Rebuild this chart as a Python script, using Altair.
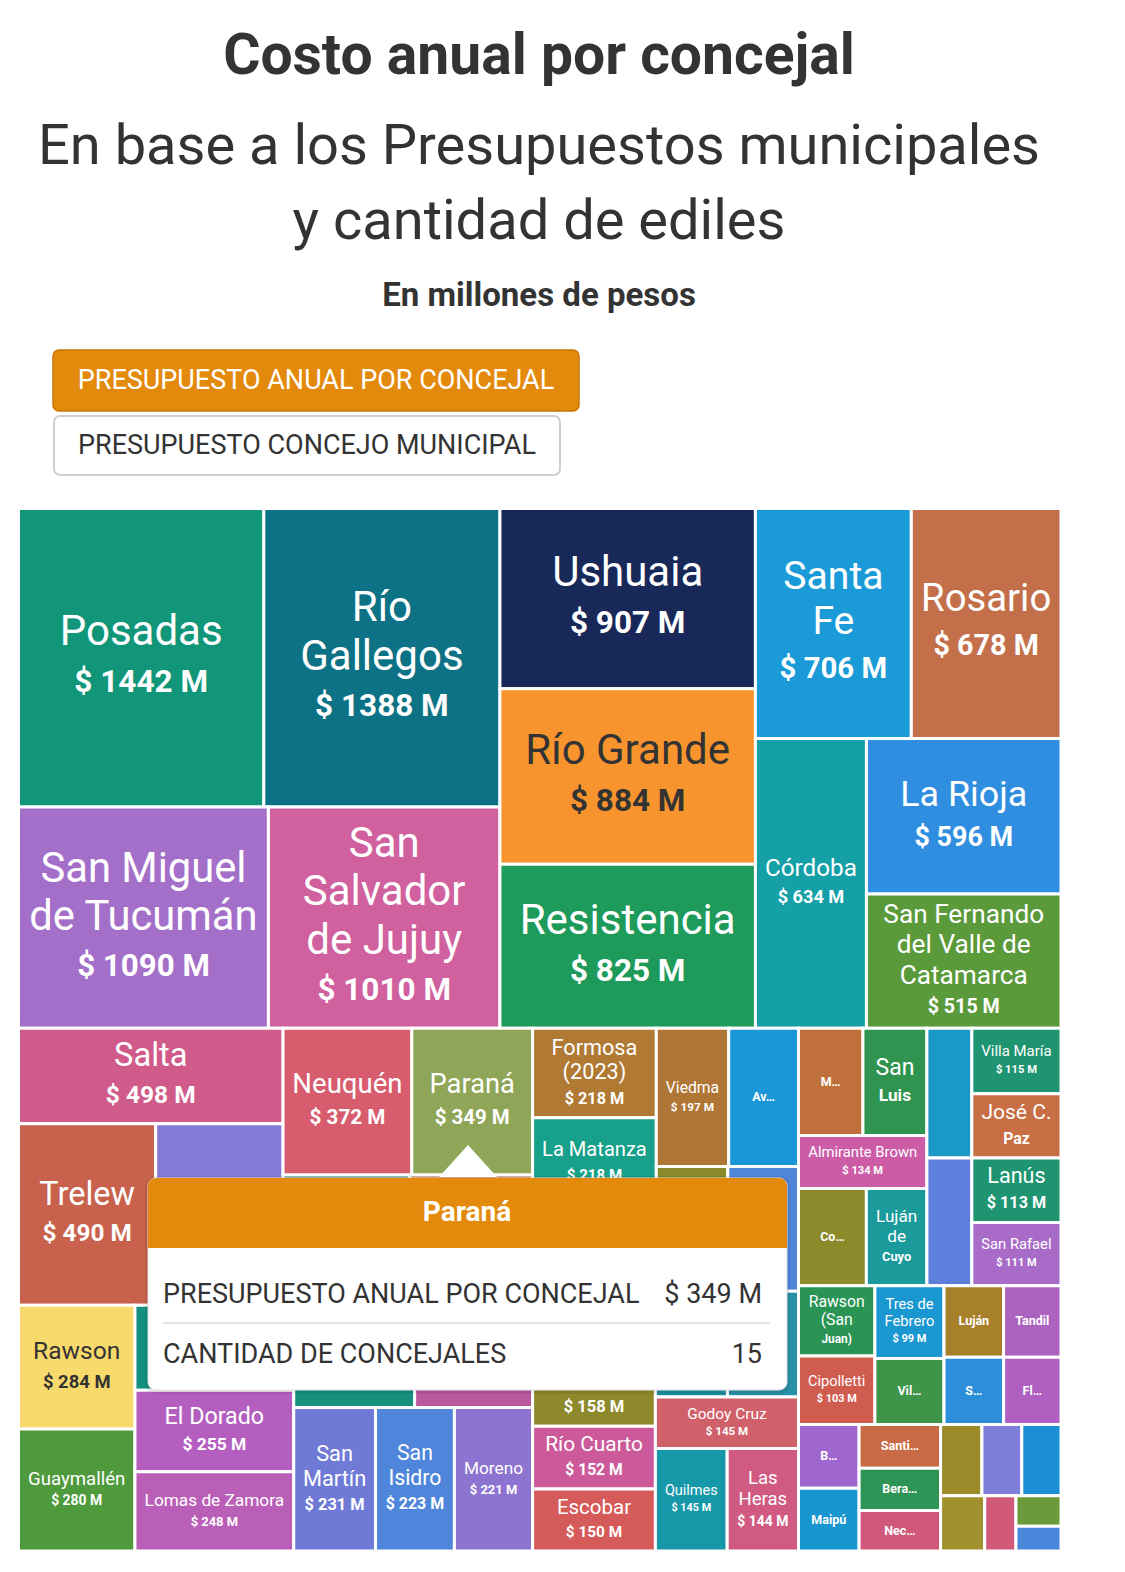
import unicodedata
import altair as alt
import pandas as pd

# ------------------------------------------------------------------ datos
ciudades = [
    "Posadas", "Río Gallegos", "San Miguel de Tucumán", "San Salvador de Jujuy", "Ushuaia",
    "Río Grande", "Resistencia", "Santa Fe", "Rosario", "Córdoba", "La Rioja",
    "San Fernando del Valle de Catamarca",
    "Salta", "Trelew", "Corrientes", "Neuquén", "Paraná", "Santa Rosa", "Mendoza", "Rawson",
    "Guaymallén", "San Juan", "El Dorado", "Lomas de Zamora", "La Plata", "Bahía Blanca",
    "San Martín", "San Isidro", "Moreno",
    "Formosa (2023)", "La Matanza", "Mar del Plata", "Viedma", "Avellaneda", "Pilar", "Morón",
    "Merlo", "Tigre", "Río Cuarto", "Escobar", "Hurlingham", "Ituzaingó", "Godoy Cruz",
    "Quilmes", "Las Heras",
    "Malvinas Argentinas", "San Luis", "Almirante Brown", "Comodoro Rivadavia", "Luján de Cuyo",
    "Gualeguaychú", "Villa María", "José C. Paz", "Esteban Echeverría", "Lanús", "San Rafael",
    "Rawson (San Juan)", "Cipolletti", "Tres de Febrero", "Villa Mercedes", "Luján", "Tandil",
    "San Nicolás", "Florencio Varela",
    "Berisso", "Maipú", "Santiago del Estero", "Berazategui", "Necochea", "Olavarría",
    "Pergamino", "Junín", "Zárate", "Campana", "Azul", "Chivilcoy",
]
valores = [
    1442, 1388, 1090, 1010, 907, 884, 825, 706, 678, 634, 596, 515,
    498, 490, 455, 372, 349, 325, 315, 284, 280, 266, 255, 248, 244, 238, 231, 223, 221,
    218, 218, 205, 197, 190, 176, 174, 168, 158, 152, 150, 150, 148, 145, 145, 144,
    136, 135, 134, 130, 116, 115, 115, 113, 113, 113, 111,
    106, 103, 99, 90, 84, 81, 79, 76,
    76, 75, 70, 68, 65, 58, 56, 55, 48, 34, 27, 22,
]
concejales_tooltip = 15
ciudad_tooltip = "Paraná"

titulo = "Costo anual por concejal"
subtitulo = ["En base a los Presupuestos municipales", "y cantidad de ediles"]
unidad = "En millones de pesos"
botones = ["PRESUPUESTO ANUAL POR CONCEJAL", "PRESUPUESTO CONCEJO MUNICIPAL"]
filas_tooltip = ["PRESUPUESTO ANUAL POR CONCEJAL", "CANTIDAD DE CONCEJALES"]

# textos de las etiquetas (líneas normales, línea en negrita)
VAL = "__valor__"
etiquetas = {
    "Río Gallegos": (["Río", "Gallegos"], VAL),
    "San Miguel de Tucumán": (["San Miguel", "de Tucumán"], VAL),
    "San Salvador de Jujuy": (["San", "Salvador", "de Jujuy"], VAL),
    "Santa Fe": (["Santa", "Fe"], VAL),
    "San Fernando del Valle de Catamarca": (["San Fernando", "del Valle de", "Catamarca"], VAL),
    "San Martín": (["San", "Martín"], VAL),
    "San Isidro": (["San", "Isidro"], VAL),
    "Formosa (2023)": (["Formosa", "(2023)"], VAL),
    "Las Heras": (["Las", "Heras"], VAL),
    "Tres de Febrero": (["Tres de", "Febrero"], VAL),
    "San Luis": (["San"], "Luis"),
    "José C. Paz": (["José C."], "Paz"),
    "Luján de Cuyo": (["Luján", "de"], "Cuyo"),
    "Rawson (San Juan)": (["Rawson", "(San"], "Juan)"),
    "Avellaneda": ([], "Av…"),
    "Pilar": ([], "Pi…"),
    "Morón": ([], "Mo…"),
    "Malvinas Argentinas": ([], "M…"),
    "Comodoro Rivadavia": ([], "Co…"),
    "Villa Mercedes": ([], "Vil…"),
    "San Nicolás": ([], "S…"),
    "Florencio Varela": ([], "Fl…"),
    "Berisso": ([], "B…"),
    "Santiago del Estero": ([], "Santi…"),
    "Berazategui": ([], "Bera…"),
    "Necochea": ([], "Nec…"),
    "Luján": ([], "Luján"),
    "Tandil": ([], "Tandil"),
    "Maipú": ([], "Maipú"),
}
sin_etiqueta = {"Gualeguaychú", "Esteban Echeverría", "Olavarría", "Pergamino", "Junín",
                "Zárate", "Campana", "Azul", "Chivilcoy"}

# ------------------------------------------------------------------ estilos
colores = {
    "Posadas": "#11967A", "Río Gallegos": "#0D7285", "San Miguel de Tucumán": "#A46FC9",
    "San Salvador de Jujuy": "#D0609E", "Ushuaia": "#182858", "Río Grande": "#F7942D",
    "Resistencia": "#1E9A5B", "Santa Fe": "#1A9AD6", "Rosario": "#C26F4A", "Córdoba": "#14A0A6",
    "La Rioja": "#2F8EE0", "San Fernando del Valle de Catamarca": "#5A9A3B",
    "Salta": "#D05B8B", "Trelew": "#C9624C", "Corrientes": "#8479D6", "Neuquén": "#D65C6E",
    "Paraná": "#8FA558", "Santa Rosa": "#3E8A8C", "Mendoza": "#C86E3C", "Rawson": "#F8D96B",
    "Guaymallén": "#4E9A3C", "San Juan": "#13907F", "El Dorado": "#B45FC0",
    "Lomas de Zamora": "#BA5FB7", "La Plata": "#17907F", "Bahía Blanca": "#B8589F",
    "San Martín": "#6F7AD6", "San Isidro": "#4F86DB", "Moreno": "#8C74D0",
    "Formosa (2023)": "#B07A34", "La Matanza": "#17A08A", "Mar del Plata": "#D6604D",
    "Viedma": "#B07636", "Avellaneda": "#1B96D6", "Pilar": "#8A8A2B", "Morón": "#4F86DA",
    "Merlo": "#2E9AA0", "Tigre": "#8E8A2C", "Río Cuarto": "#CC5A9A", "Escobar": "#D55A5A",
    "Hurlingham": "#1C8E9C", "Ituzaingó": "#2A8FA8", "Godoy Cruz": "#D0606A",
    "Quilmes": "#1698A8", "Las Heras": "#D05A82",
    "Malvinas Argentinas": "#C0703A", "San Luis": "#2E9450", "Almirante Brown": "#CC5CA6",
    "Comodoro Rivadavia": "#8C8A2A", "Luján de Cuyo": "#1A9A9A", "Gualeguaychú": "#1A98C8",
    "Villa María": "#1E9470", "José C. Paz": "#C86E45", "Esteban Echeverría": "#5E7FDC",
    "Lanús": "#1E9470", "San Rafael": "#A86CC8",
    "Rawson (San Juan)": "#2A9455", "Cipolletti": "#D05C50", "Tres de Febrero": "#1A96D0",
    "Villa Mercedes": "#3E9448", "Luján": "#A8802A", "Tandil": "#AE62C0",
    "San Nicolás": "#2D8FDA", "Florencio Varela": "#AE5FBF",
    "Berisso": "#A066D0", "Maipú": "#1896D0", "Santiago del Estero": "#C86A45",
    "Berazategui": "#2E9455", "Necochea": "#D0587A", "Olavarría": "#9A8A2A",
    "Pergamino": "#7E7ED8", "Junín": "#1A8FD6", "Zárate": "#A0902E", "Campana": "#D05A78",
    "Azul": "#6A9A3A", "Chivilcoy": "#4A86DA",
}
FUENTE = "Roboto"
NARANJA = "#E38A0C"
OSCURO = "#333333"

# área del treemap (coordenadas de página) y margen de la página
PAGE = 8
TX0, TY0 = 18.5, 508.5
W = H = 1042.5
TOOLTIP = (148, 1178, 787, 1390)   # caja del tooltip (página)


# ------------------------------------------------------------------ layout (d3.treemapBinary)
def binario(vals, x0, y0, x1, y1):
    n = len(vals)
    sums = [0.0]
    for v in vals:
        sums.append(sums[-1] + v)
    out = [None] * n

    def part(i, j, value, x0, y0, x1, y1):
        if i >= j - 1:
            out[i] = (x0, y0, x1, y1)
            return
        off = sums[i]
        target = value / 2 + off
        k, hi = i + 1, j - 1
        while k < hi:
            mid = (k + hi) >> 1
            if sums[mid] < target:
                k = mid + 1
            else:
                hi = mid
        if (target - sums[k - 1]) < (sums[k] - target) and i + 1 < k:
            k -= 1
        vl = sums[k] - off
        vr = value - vl
        if (x1 - x0) > (y1 - y0):
            xk = (x0 * vr + x1 * vl) / value
            part(i, k, vl, x0, y0, xk, y1)
            part(k, j, vr, xk, y0, x1, y1)
        else:
            yk = (y0 * vr + y1 * vl) / value
            part(i, k, vl, x0, y0, x1, yk)
            part(k, j, vr, x0, yk, x1, y1)

    part(0, n, sums[n], x0, y0, x1, y1)
    return out


orden = sorted(range(len(valores)), key=lambda i: -valores[i])
cajas = binario([valores[i] for i in orden], 0.0, 0.0, W, H)

ANCHO = {' ': .248, '.': .263, ',': .196, '(': .342, ')': .348, '$': .561, '…': .79, '-': .276,
         'a': .543, 'b': .561, 'c': .523, 'd': .564, 'e': .530, 'f': .347, 'g': .561, 'h': .551,
         'i': .243, 'j': .239, 'k': .507, 'l': .243, 'm': .876, 'n': .552, 'o': .570, 'p': .561,
         'q': .568, 'r': .338, 's': .516, 't': .327, 'u': .551, 'v': .484, 'w': .751, 'x': .496,
         'y': .473, 'z': .496,
         'A': .652, 'B': .622, 'C': .652, 'D': .655, 'E': .554, 'F': .545, 'G': .681, 'H': .713,
         'I': .272, 'J': .553, 'K': .627, 'L': .539, 'M': .873, 'N': .697, 'O': .688, 'P': .630,
         'Q': .688, 'R': .615, 'S': .594, 'T': .597, 'U': .648, 'V': .637, 'W': .887, 'X': .627,
         'Y': .601, 'Z': .599}


def ancho(t, negrita=False):
    w = 0.0
    for ch in t:
        if ch.isdigit():
            w += .561
            continue
        base = unicodedata.normalize("NFD", ch)[0]
        w += ANCHO.get(ch, ANCHO.get(base, .55))
    return w * (1.04 if negrita else 1.0)


def color_texto(hx):
    r, g, b = int(hx[1:3], 16), int(hx[3:5], 16), int(hx[5:7], 16)
    lum = (0.299 * r + 0.587 * g + 0.114 * b) / 255
    return OSCURO if lum > 0.62 else "#FFFFFF"


def tapado(cx, cy):
    """La línea queda bajo el tooltip (no se ve en la referencia)."""
    px, py = cx + TX0, cy + TY0
    return TOOLTIP[0] <= px <= TOOLTIP[2] and TOOLTIP[1] <= py <= TOOLTIP[3]


celdas, nom_rows, neg_rows = [], [], []


def agrega(lista, cx, cy, t, s, c):
    if not tapado(cx, cy):
        lista.append(dict(cx=cx, cy=cy, t=t, s=s, c=c))


for pos, i in enumerate(orden):
    x0, y0, x1, y1 = cajas[pos]
    nombre = ciudades[i]
    celdas.append(dict(ciudad=nombre, valor=valores[i], x0=x0, x1=x1, y0=y0, y1=y1,
                       color=colores[nombre]))
    if nombre in sin_etiqueta:
        continue
    regs, neg = etiquetas.get(nombre, ([nombre], VAL))
    if neg == VAL:
        neg = f"$ {valores[i]} M"
    w, h = x1 - x0 - 3, y1 - y0 - 3
    cx, cy = (x0 + x1) / 2, (y0 + y1) / 2
    col = color_texto(colores[nombre])
    if not regs:
        agrega(neg_rows, cx, cy, neg, 12.5, col)
        continue
    ems = [ancho(r) for r in regs] + [0.75 * ancho(neg, True)]
    s_w = (w - 16) / max(ems)
    s_h = (h - 16) / ((len(regs) - 1) * 1.15 + 2.1)
    s_a = max(23.0, 0.21 * (w * h) ** 0.5)
    s = max(8.0, min(42.0, s_w, s_h, s_a))
    total = (len(regs) - 1) * 1.15 * s + 1.2 * s
    y = cy - total / 2
    for r in regs:
        agrega(nom_rows, cx, y, r, s, col)
        y += 1.15 * s
    y += 0.05 * s
    agrega(neg_rows, cx, y, neg, 0.75 * s, col)

df = pd.DataFrame(celdas)
df_nom = pd.DataFrame(nom_rows)
df_neg = pd.DataFrame(neg_rows)

xs = alt.Scale(domain=[0, W], range=[TX0 - PAGE, TX0 - PAGE + W], nice=False, zero=False)
ys = alt.Scale(domain=[0, H], range=[TY0 - PAGE, TY0 - PAGE + H], nice=False, zero=False)

capa_celdas = alt.Chart(df).mark_rect(stroke="white", strokeWidth=3).encode(
    x=alt.X("x0:Q", scale=xs, axis=None), x2="x1:Q",
    y=alt.Y("y0:Q", scale=ys, axis=None), y2="y1:Q",
    color=alt.Color("color:N", scale=None, legend=None),
)
capa_nom = alt.Chart(df_nom).mark_text(font=FUENTE, align="center", baseline="middle").encode(
    x=alt.X("cx:Q", scale=xs, axis=None), y=alt.Y("cy:Q", scale=ys, axis=None),
    text="t:N", size=alt.Size("s:Q", scale=None, legend=None),
    color=alt.Color("c:N", scale=None, legend=None),
)
capa_neg = alt.Chart(df_neg).mark_text(font=FUENTE, fontWeight="bold", align="center",
                                        baseline="middle").encode(
    x=alt.X("cx:Q", scale=xs, axis=None), y=alt.Y("cy:Q", scale=ys, axis=None),
    text="t:N", size=alt.Size("s:Q", scale=None, legend=None),
    color=alt.Color("c:N", scale=None, legend=None),
)

# ------------------------------------------------------------------ decoración (página)
uno = pd.DataFrame({"k": [0]})


def caja(x0, y0, x1, y1, **kw):
    return alt.Chart(uno).mark_rect(**kw).encode(
        x=alt.value(x0 - PAGE), x2=alt.value(x1 - PAGE),
        y=alt.value(y0 - PAGE), y2=alt.value(y1 - PAGE))


def texto(t, x, y, **kw):
    kw.setdefault("font", FUENTE)
    return alt.Chart(uno).mark_text(text=t, **kw).encode(
        x=alt.value(x - PAGE), y=alt.value(y - PAGE))


valor_tt = valores[ciudades.index(ciudad_tooltip)]
tx0, ty0, tx1, ty1 = TOOLTIP

decor = [
    # encabezado
    texto(titulo, 539, 74, fontSize=57, fontWeight="bold", color=OSCURO, align="center",
          baseline="alphabetic"),
    texto(subtitulo[0], 539, 164, fontSize=56, color=OSCURO, align="center",
          baseline="alphabetic"),
    texto(subtitulo[1], 539, 239, fontSize=56, color=OSCURO, align="center",
          baseline="alphabetic"),
    texto(unidad, 539, 306, fontSize=33, fontWeight="bold", color=OSCURO, align="center",
          baseline="alphabetic"),
    # botones
    caja(53, 350, 579, 411, fill=NARANJA, stroke="#C77808", strokeWidth=1.5, cornerRadius=6),
    texto(botones[0], 316, 381, fontSize=27, color="white", align="center", baseline="middle"),
    caja(54, 416, 560, 475, fill="white", stroke="#CFCFCF", strokeWidth=2, cornerRadius=6),
    texto(botones[1], 307, 446, fontSize=27, color=OSCURO, align="center", baseline="middle"),
    # tooltip
    caja(tx0 - 3, ty0 - 2, tx1 + 3, ty1 + 4, fill="black", opacity=0.07, cornerRadius=10),
    caja(tx0, ty0, tx1, ty1, fill="white", stroke="#E2E2E2", strokeWidth=1, cornerRadius=8),
    caja(tx0, ty0, tx1, ty0 + 70, fill=NARANJA, cornerRadiusTopLeft=8, cornerRadiusTopRight=8),
    alt.Chart(uno).mark_point(shape="M-1,0.55L0,-0.55L1,0.55Z", filled=True, fill="white",
                              opacity=1, size=3364, strokeWidth=0).encode(
        x=alt.value(468 - PAGE), y=alt.value(1161 - PAGE)),
    texto(ciudad_tooltip, 467, 1213, fontSize=28, fontWeight="bold", color="white",
          align="center", baseline="middle"),
    texto(filas_tooltip[0], 163, 1295, fontSize=27, color=OSCURO, align="left",
          baseline="middle"),
    texto(f"$ {valor_tt} M", 762, 1295, fontSize=27, color=OSCURO, align="right",
          baseline="middle"),
    alt.Chart(uno).mark_rule(stroke="#E6E6E6", strokeWidth=2).encode(
        x=alt.value(163 - PAGE), x2=alt.value(770 - PAGE), y=alt.value(1323 - PAGE)),
    texto(filas_tooltip[1], 163, 1355, fontSize=27, color=OSCURO, align="left",
          baseline="middle"),
    texto(str(concejales_tooltip), 762, 1355, fontSize=27, color=OSCURO, align="right",
          baseline="middle"),
]

chart = alt.layer(capa_celdas, capa_nom, capa_neg, *decor).properties(
    width=1109, height=1550, padding=0, background="white",
    autosize=alt.AutoSizeParams(type="none"),
).configure_view(strokeWidth=0)

chart.save("out.html", embed_options={"renderer": "svg", "actions": False})
